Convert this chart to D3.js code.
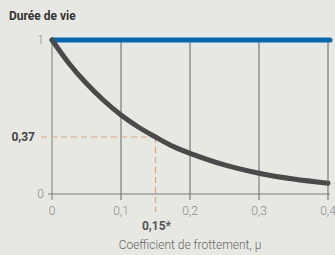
<!DOCTYPE html>
<html>
<head>
<meta charset="utf-8">
<script src="https://cdnjs.cloudflare.com/ajax/libs/d3/7.8.5/d3.min.js"></script>
<style>
  body { margin: 0; background: #e8e8e3; }
  svg { display: block; font-family: Roboto, "Open Sans", sans-serif; }
</style>
</head>
<body>
<svg id="chart"></svg>
<script>
var width = 335,
    height = 255,
    margin = {left: 52, right: 7, top: 40, bottom: 61};

// values
var mu = [0, 0.025, 0.05, 0.075, 0.1, 0.125, 0.15, 0.175, 0.2, 0.25, 0.3, 0.35, 0.4];
var life = [1, 0.846, 0.717, 0.607, 0.513, 0.435, 0.37, 0.31, 0.264, 0.189, 0.135, 0.097, 0.07];
var xTicks = [0, 0.1, 0.2, 0.3, 0.4];
var yTicks = [0, 1];
var markX = 0.15, markY = 0.37;

var svg = d3.select("#chart").attr("width", width).attr("height", height);

var x = d3.scaleLinear().domain([0, 0.4]).range([margin.left, width - margin.right]);
var y = d3.scaleLinear().domain([0, 1]).range([height - margin.bottom, margin.top]);
var fmt = function(d) { return d3.format("")(d).replace(".", ","); };

svg.append("text")
  .attr("x", 9).attr("y", 20)
  .attr("font-size", 12).attr("font-weight", "bold").attr("fill", "#333")
  .text("Durée de vie");

// vertical grid lines with ticks
svg.append("g").selectAll("line")
  .data(xTicks.slice(1))
  .enter().append("line")
  .attr("x1", d => x(d)).attr("x2", d => x(d))
  .attr("y1", y(1)).attr("y2", y(0) + 6)
  .attr("stroke", "#7a7a7a").attr("stroke-width", 1.2);

// axes
svg.append("line")
  .attr("x1", x(0)).attr("x2", x(0))
  .attr("y1", y(1)).attr("y2", y(0) + 6)
  .attr("stroke", "#8a8a8a").attr("stroke-width", 1.2);
svg.append("line")
  .attr("x1", x(0) - 4).attr("x2", x(0.4) + 2)
  .attr("y1", y(0)).attr("y2", y(0))
  .attr("stroke", "#7a7a7a").attr("stroke-width", 1.2);

// x tick labels
svg.append("g").selectAll("text")
  .data(xTicks)
  .enter().append("text")
  .attr("x", d => x(d)).attr("y", y(0) + 21)
  .attr("text-anchor", "middle")
  .attr("font-size", 12).attr("font-weight", 300).attr("fill", "#888")
  .text(fmt);

// y tick labels
svg.append("g").selectAll("text")
  .data(yTicks)
  .enter().append("text")
  .attr("x", x(0) - 8).attr("y", d => y(d) + 4)
  .attr("text-anchor", "end")
  .attr("font-size", 12).attr("font-weight", 300).attr("fill", "#888")
  .text(fmt);

// marker dashes
svg.append("line")
  .attr("x1", x(0) - 11).attr("x2", x(markX))
  .attr("y1", y(markY)).attr("y2", y(markY))
  .attr("stroke", "#e3a172").attr("stroke-width", 1.2).attr("stroke-dasharray", "6,4");
svg.append("line")
  .attr("x1", x(markX)).attr("x2", x(markX))
  .attr("y1", y(markY)).attr("y2", y(0) + 18)
  .attr("stroke", "#e3a172").attr("stroke-width", 1.2).attr("stroke-dasharray", "6,4");

svg.append("text")
  .attr("x", x(0) - 17).attr("y", y(markY) + 4)
  .attr("text-anchor", "end")
  .attr("font-size", 12).attr("font-weight", "bold").attr("fill", "#444")
  .text(fmt(markY));
svg.append("text")
  .attr("x", x(markX) + 1).attr("y", y(0) + 36)
  .attr("text-anchor", "middle")
  .attr("font-size", 12).attr("font-weight", "bold").attr("fill", "#555")
  .text(fmt(markX) + "*");

// blue reference line
svg.append("line")
  .attr("x1", x(0)).attr("x2", x(0.4) + 2)
  .attr("y1", y(1)).attr("y2", y(1))
  .attr("stroke", "#0369b3").attr("stroke-width", 5).attr("stroke-linecap", "round");

// decay curve
var line = d3.line()
  .x((d, i) => x(mu[i]))
  .y(d => y(d))
  .curve(d3.curveCatmullRom);
svg.append("path")
  .datum(life)
  .attr("d", line)
  .attr("fill", "none")
  .attr("stroke", "#4a4a4a").attr("stroke-width", 5).attr("stroke-linecap", "round");

svg.append("text")
  .attr("x", x(0.2)).attr("y", height - 6)
  .attr("text-anchor", "middle")
  .attr("font-size", 12).attr("font-weight", 300).attr("fill", "#666")
  .text("Coefficient de frottement, μ");
</script>
</body>
</html>
